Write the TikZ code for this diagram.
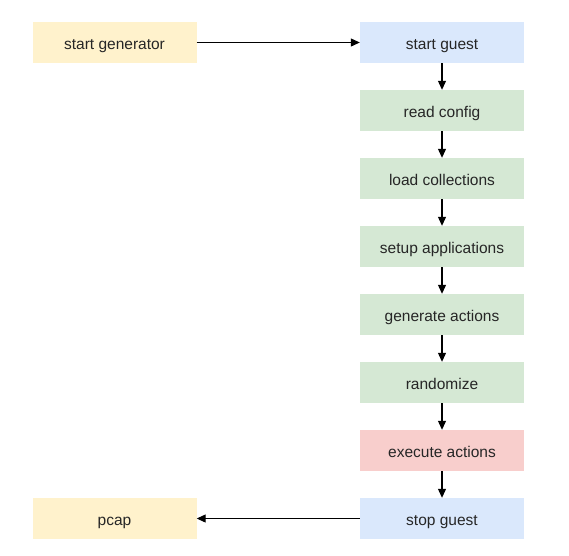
\documentclass[tikz,border=0pt]{standalone}
\usepackage{fontspec}
\setmainfont{Liberation Sans}
\usetikzlibrary{arrows.meta}
\definecolor{cyellow}{HTML}{FFF2CC}
\definecolor{cblue}{HTML}{DAE8FC}
\definecolor{cgreen}{HTML}{D5E8D4}
\definecolor{cred}{HTML}{F8CECC}
\begin{document}
\begin{tikzpicture}[x=1pt,y=-1pt,
  box/.style={minimum width=164pt,minimum height=41pt,inner sep=0pt,text height=15pt,text depth=2pt,font=\fontsize{15.5}{18}\selectfont,text=black!85},
  arr/.style={-{Triangle[length=9pt,width=8pt]},line width=1.1pt,black}]
\useasboundingbox (0,0) rectangle (569,555);
\node[box,fill=cyellow] (gen) at (114.5,42.5) {start generator};
\node[box,fill=cblue] (sg) at (442,42.5) {start guest};
\node[box,fill=cgreen] (rc) at (442,110.5) {read config};
\node[box,fill=cgreen] (lc) at (442,178.5) {load collections};
\node[box,fill=cgreen] (sa) at (442,246.5) {setup applications};
\node[box,fill=cgreen] (ga) at (442,314.5) {generate actions};
\node[box,fill=cgreen] (rz) at (442,382.5) {randomize};
\node[box,fill=cred] (ea) at (442,450.5) {execute actions};
\node[box,fill=cblue] (st) at (442,518.5) {stop guest};
\node[box,fill=cyellow] (pc) at (114.5,518.5) {pcap};
\draw[arr] (gen) -- (sg);
\draw[arr] (sg) -- (rc);
\draw[arr] (rc) -- (lc);
\draw[arr] (lc) -- (sa);
\draw[arr] (sa) -- (ga);
\draw[arr] (ga) -- (rz);
\draw[arr] (rz) -- (ea);
\draw[arr] (ea) -- (st);
\draw[arr] (st) -- (pc);
\end{tikzpicture}
\end{document}
